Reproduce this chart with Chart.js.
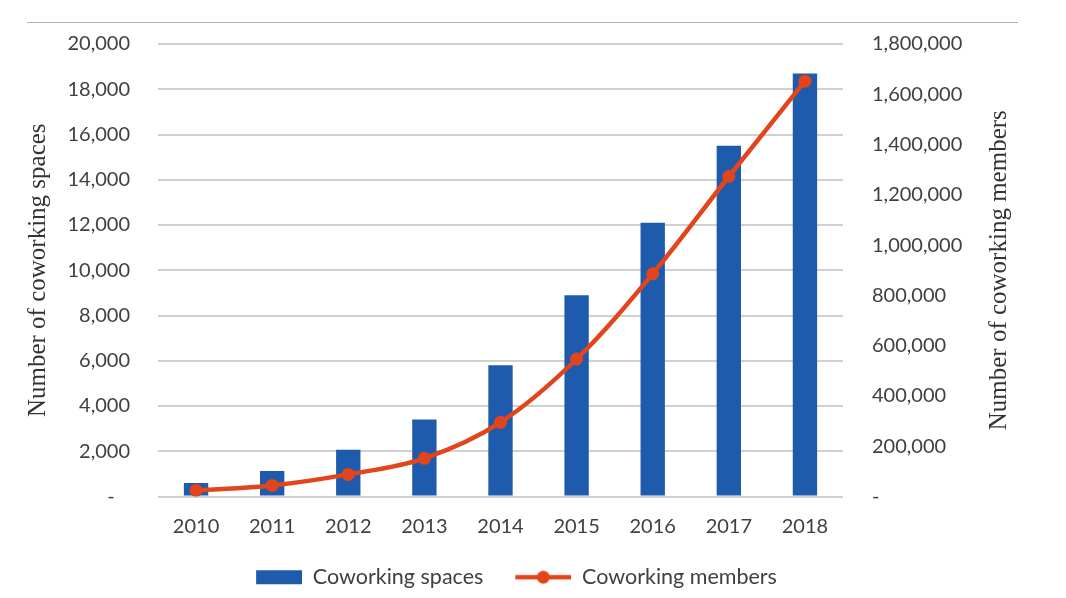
<!DOCTYPE html>
<html lang="en">
<head>
    <meta charset="UTF-8">
    <title>Coworking spaces and members</title>
    <style>
        body {
            margin: 0;
            padding: 0;
            background-color: #fff;
        }

        .chart-container {
            position: relative;
            width: 1066px;
            height: 598px;
        }

        .top-rule {
            position: absolute;
            left: 27px;
            top: 22px;
            width: 991px;
            height: 1px;
            background-color: #b0b0b0;
        }
    </style>
    <script src="https://cdn.jsdelivr.net/npm/chart.js"></script>
</head>
<body>
    <div class="chart-container">
        <div class="top-rule"></div>
        <canvas id="coworkingChart" width="1066" height="598"></canvas>
    </div>

    <script>
        const years = ['2010', '2011', '2012', '2013', '2014', '2015', '2016', '2017', '2018'];
        const spaces = [600, 1130, 2070, 3400, 5800, 8900, 12100, 15500, 18700];
        const members = [24000, 44000, 88000, 152000, 295000, 547000, 886000, 1273000, 1652000];
        const leftTicks = [0, 2000, 4000, 6000, 8000, 10000, 12000, 14000, 16000, 18000, 20000];
        const rightTicks = [0, 200000, 400000, 600000, 800000, 1000000, 1200000, 1400000, 1600000, 1800000];

        const barColor = '#1f5bad';
        const lineColor = '#e2441c';
        const textColor = '#404040';

        // iconos de la leyenda (barra y linea con punto)
        function makeIcon(kind) {
            const c = document.createElement('canvas');
            c.width = 78;
            c.height = 16;
            const g = c.getContext('2d');
            if (kind === 'bar') {
                g.fillStyle = barColor;
                g.fillRect(32, 1, 46, 14);
            } else {
                g.strokeStyle = lineColor;
                g.lineWidth = 4.5;
                g.beginPath();
                g.moveTo(22, 8);
                g.lineTo(78, 8);
                g.stroke();
                g.fillStyle = lineColor;
                g.beginPath();
                g.arc(50, 8, 6.5, 0, Math.PI * 2);
                g.fill();
            }
            return c;
        }
        const icons = [makeIcon('bar'), makeIcon('line')];

        function fmt(v) {
            return v === 0 ? '-' : v.toLocaleString('en-US');
        }

        // titulo del eje derecho, leido de abajo hacia arriba
        const rightTitle = {
            id: 'rightTitle',
            afterDraw(chart) {
                const a = chart.chartArea;
                const ctx = chart.ctx;
                ctx.save();
                ctx.translate(999, (a.top + a.bottom) / 2);
                ctx.rotate(-Math.PI / 2);
                ctx.font = '25px "Liberation Serif"';
                ctx.fillStyle = '#333';
                ctx.textAlign = 'center';
                ctx.textBaseline = 'middle';
                ctx.fillText('Number of coworking members', 0, 0);
                ctx.restore();
            }
        };

        const ctx = document.getElementById('coworkingChart').getContext('2d');
        new Chart(ctx, {
            type: 'bar',
            data: {
                labels: years,
                datasets: [{
                    type: 'bar',
                    label: 'Coworking spaces',
                    data: spaces,
                    backgroundColor: barColor,
                    yAxisID: 'y',
                    order: 2,
                    categoryPercentage: 1,
                    barPercentage: 0.32
                }, {
                    type: 'line',
                    label: 'Coworking members',
                    data: members,
                    borderColor: lineColor,
                    backgroundColor: lineColor,
                    borderWidth: 4.5,
                    pointRadius: 6.5,
                    pointBorderWidth: 0,
                    pointBackgroundColor: lineColor,
                    tension: 0.35,
                    yAxisID: 'y1',
                    order: 1
                }]
            },
            options: {
                responsive: false,
                animation: false,
                layout: {
                    padding: { top: 44, left: 0, right: 0, bottom: 0 }
                },
                scales: {
                    x: {
                        grid: { display: false, drawTicks: false },
                        border: { display: false },
                        ticks: {
                            color: textColor,
                            font: { family: 'Lato', size: 20 },
                            padding: 18
                        },
                        afterFit: s => { s.height = 60; }
                    },
                    y: {
                        position: 'left',
                        min: 0,
                        max: 20000,
                        afterBuildTicks: s => { s.ticks = leftTicks.map(v => ({ value: v })); },
                        afterFit: s => { s.width = 158; },
                        grid: { color: '#d0d0d0', lineWidth: 2, drawTicks: false },
                        border: { display: false },
                        ticks: {
                            color: textColor,
                            font: { family: 'Lato', size: 20 },
                            padding: 28,
                            callback: v => v === 0 ? '-   ' : fmt(v)
                        },
                        title: {
                            display: true,
                            text: 'Number of coworking spaces',
                            color: '#333',
                            font: { family: 'Liberation Serif', size: 25 },
                            padding: { top: 23, bottom: 0 }
                        }
                    },
                    y1: {
                        position: 'right',
                        min: 0,
                        max: 1800000,
                        afterBuildTicks: s => { s.ticks = rightTicks.map(v => ({ value: v })); },
                        afterFit: s => { s.width = 223; },
                        grid: { display: false, drawTicks: false },
                        border: { display: false },
                        ticks: {
                            color: textColor,
                            font: { family: 'Lato', size: 20 },
                            padding: 29,
                            callback: v => fmt(v)
                        }
                    }
                },
                plugins: {
                    legend: {
                        position: 'bottom',
                        fullSize: false,
                        labels: {
                            color: textColor,
                            font: { family: 'Lato', size: 21.5 },
                            usePointStyle: true,
                            pointStyleWidth: 78,
                            padding: 10,
                            sort: (a, b) => a.datasetIndex - b.datasetIndex,
                            generateLabels(chart) {
                                const items = Chart.defaults.plugins.legend.labels.generateLabels(chart);
                                items.forEach(it => { it.pointStyle = icons[it.datasetIndex]; });
                                return items;
                            }
                        }
                    },
                    tooltip: { enabled: false }
                }
            },
            plugins: [rightTitle]
        });
    </script>
</body>
</html>
